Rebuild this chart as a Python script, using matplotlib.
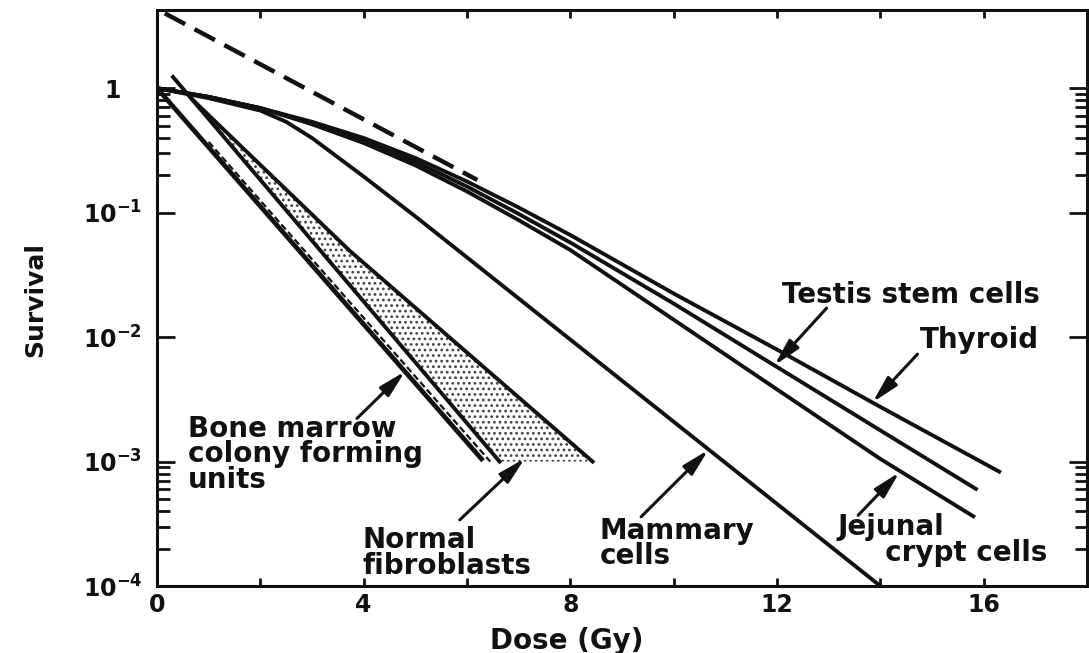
import matplotlib
matplotlib.use('Agg')
import matplotlib.pyplot as plt
from matplotlib.ticker import FixedLocator, NullFormatter

plt.rcParams['font.family'] = ['DejaVu Sans']
plt.rcParams['font.weight'] = 'bold'
plt.rcParams['mathtext.fontset'] = 'dejavusans'
plt.rcParams['hatch.linewidth'] = 1.2

# survival curves: dose (Gy) / surviving fraction
thyroid_dose = [0, 1, 2, 3, 4, 5, 6, 7, 8, 10, 12, 14, 16.3]
thyroid_surv = [1.0, 0.851, 0.692, 0.537, 0.398, 0.275, 0.178, 0.110, 0.0661, 0.0224, 0.00794, 0.00275, 0.00083]

testis_dose = [0, 1, 2, 3, 4, 5, 6, 7, 8, 10, 12, 14, 15.85]
testis_surv = [1.0, 0.851, 0.692, 0.525, 0.380, 0.257, 0.162, 0.0977, 0.0575, 0.0186, 0.00575, 0.00178, 0.000603]

jejunal_dose = [0, 1, 2, 3, 4, 5, 6, 7, 8, 10, 12, 14, 15.8]
jejunal_surv = [1.0, 0.851, 0.692, 0.513, 0.363, 0.240, 0.148, 0.0871, 0.0501, 0.0138, 0.0038, 0.00105, 0.000363]

mammary_dose = [0, 1, 2, 2.5, 3, 4, 5, 6, 8, 10, 12, 14]
mammary_surv = [1.0, 0.832, 0.661, 0.537, 0.398, 0.195, 0.0933, 0.0437, 0.00955, 0.00209, 0.000457, 0.0001]

marrow_a_dose = [0, 6.28]
marrow_a_surv = [1.0, 0.00105]
marrow_b_dose = [0.31, 6.63]
marrow_b_surv = [1.23, 0.001]
marrow_mid_dose = [1.0, 6.45]
marrow_mid_surv = [0.37, 0.001]

fibro_dose = [0.70, 3.73, 8.43]
fibro_surv = [0.80, 0.0494, 0.001]

# extrapolated asymptote (dashed)
extrap_dose = [0.15, 6.2]
extrap_surv = [4.0, 0.183]

fig = plt.figure(figsize=(10.89, 6.53), dpi=100)
ax = fig.add_axes([157/1089, (653-586)/653, 930/1089, 576/653])
ax.set_yscale('log')
ax.set_xlim(0, 18)
ax.set_ylim(1e-4, 4.25)

lw = 2.8
col = '#111111'

# stippled band for normal fibroblasts
ax.fill(marrow_b_dose + fibro_dose[::-1], marrow_b_surv + fibro_surv[::-1],
        facecolor='white', edgecolor='#444444', hatch='...', linewidth=0, zorder=1)

ax.plot(thyroid_dose, thyroid_surv, color=col, lw=lw, zorder=3)
ax.plot(testis_dose, testis_surv, color=col, lw=lw, zorder=3)
ax.plot(jejunal_dose, jejunal_surv, color=col, lw=lw, zorder=3)
ax.plot(mammary_dose, mammary_surv, color=col, lw=lw, zorder=3)
ax.plot(marrow_a_dose, marrow_a_surv, color=col, lw=lw + 0.6, zorder=3)
ax.plot(marrow_b_dose, marrow_b_surv, color=col, lw=lw, zorder=3)
ax.plot(marrow_mid_dose, marrow_mid_surv, color=col, lw=1.6, ls=(0, (3, 1.5)), zorder=3)
ax.plot(fibro_dose, fibro_surv, color=col, lw=lw, zorder=3)
ax.plot(extrap_dose, extrap_surv, color=col, lw=3.2, ls=(0, (5.2, 2.4)), zorder=3)

arrow = dict(arrowstyle='-|>,head_length=0.9,head_width=0.22', mutation_scale=18,
             lw=2.2, color=col, shrinkA=0, shrinkB=0)
ax.annotate('', xy=(4.80, 0.0053), xytext=(3.87, 0.00222), arrowprops=arrow)
ax.annotate('', xy=(7.12, 0.00106), xytext=(5.86, 0.00034), arrowprops=arrow)
ax.annotate('', xy=(10.67, 0.00124), xytext=(9.37, 0.00036), arrowprops=arrow)
ax.annotate('', xy=(14.37, 0.00082), xytext=(13.57, 0.00037), arrowprops=arrow)
ax.annotate('', xy=(11.95, 0.00593), xytext=(12.96, 0.0171), arrowprops=arrow)
ax.annotate('', xy=(13.85, 0.00299), xytext=(14.72, 0.0073), arrowprops=arrow)

fs = 20
tk = dict(fontsize=fs, fontweight='bold', ha='left', color=col, linespacing=0.9)
ax.text(12.09, 0.0188, 'Testis stem cells', va='baseline', **tk)
ax.text(14.76, 0.00813, 'Thyroid', va='baseline', **tk)
ax.text(8.57, 0.000149, 'Mammary\ncells', va='baseline', **tk)
ax.text(13.17, 0.000160, 'Jejunal\n     crypt cells', va='baseline', **tk)
ax.text(0.60, 0.00061, 'Bone marrow\ncolony forming\nunits', va='baseline', **tk)
ax.text(3.97, 0.000126, 'Normal\nfibroblasts', va='baseline', **tk)

# axes, ticks
for s in ax.spines.values():
    s.set_linewidth(2.2)
    s.set_color(col)

ax.xaxis.set_major_locator(FixedLocator([0, 4, 8, 12, 16]))
ax.xaxis.set_minor_locator(FixedLocator([2, 6, 10, 14]))
ax.set_xticklabels(['0', '4', '8', '12', '16'])
ax.yaxis.set_major_locator(FixedLocator([1e-4, 1e-3, 1e-2, 1e-1, 1]))
ax.yaxis.set_minor_locator(FixedLocator([0.2, 0.3, 0.4, 0.5, 0.6, 0.7, 0.8, 0.9,
                                         2e-4, 3e-4, 4e-4, 5e-4, 6e-4, 7e-4, 8e-4, 9e-4]))
ax.yaxis.set_minor_formatter(NullFormatter())
ax.set_yticklabels([r'$\mathbf{10^{-4}}$', r'$\mathbf{10^{-3}}$', r'$\mathbf{10^{-2}}$',
                    r'$\mathbf{10^{-1}}$', '1'])

ax.tick_params(axis='both', which='both', direction='in', top=True, right=True,
               width=2, color=col, labelcolor=col)
ax.tick_params(axis='y', which='major', length=13, labelsize=17, pad=32)
ax.tick_params(axis='y', which='minor', length=9)
ax.tick_params(axis='x', which='both', length=6, labelsize=17, pad=5)
for lab in ax.get_yticklabels():
    lab.set_horizontalalignment('center')
    lab.set_fontweight('bold')
for lab in ax.get_xticklabels():
    lab.set_fontweight('bold')

ax.set_xlabel('Dose (Gy)', fontsize=20, fontweight='bold', color=col)
ax.xaxis.set_label_coords(0.441, -0.071)
ax.set_ylabel('Survival', fontsize=18, fontweight='bold', color=col)
ax.yaxis.set_label_coords(-0.118, 0.497)

fig.savefig('out.png', dpi=100, facecolor='white')
